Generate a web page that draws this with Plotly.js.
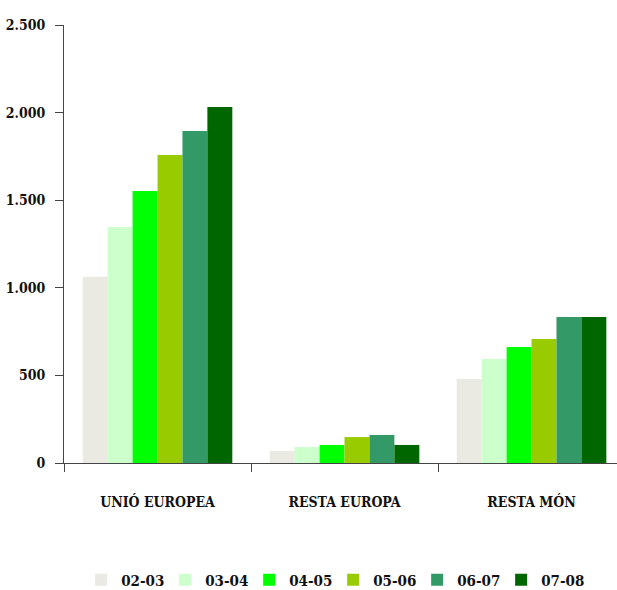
<!DOCTYPE html>
<html>
<head>
<meta charset="utf-8">
<script src="https://cdn.plot.ly/plotly-3.0.1.min.js"></script>
<style>html,body{margin:0;padding:0;background:#fff;overflow:hidden}</style>
</head>
<body>
<div id="chart" style="width:617px;height:590px"></div>
<script>
const categories = ['UNIÓ EUROPEA', 'RESTA EUROPA', 'RESTA MÓN'];
const seriesNames = ['02-03', '03-04', '04-05', '05-06', '06-07', '07-08'];
const v0203 = [1063, 68, 479];
const v0304 = [1347, 91, 594];
const v0405 = [1553, 103, 662];
const v0506 = [1758, 148, 708];
const v0607 = [1895, 160, 833];
const v0708 = [2032, 103, 833];
const seriesValues = [v0203, v0304, v0405, v0506, v0607, v0708];
const colors = ['#EAEAE2', '#CCFFCC', '#00FF00', '#99CC00', '#339966', '#006600'];
const yTicks = [0, 500, 1000, 1500, 2000, 2500];

const FONT = '"DejaVu Serif Condensed", "DejaVu Serif", serif';

const traces = seriesNames.map((n, i) => ({
  type: 'bar',
  name: n,
  x: categories,
  y: seriesValues[i],
  marker: {color: colors[i], line: {width: 0}},
  hoverinfo: 'y'
}));

const layout = {
  width: 617, height: 590,
  margin: {l: 64, r: 0, t: 25, b: 127, autoexpand: false},
  paper_bgcolor: '#fff', plot_bgcolor: '#fff',
  separators: ',.',
  barmode: 'group', bargap: 0.2, bargroupgap: 0,
  font: {family: FONT, color: '#111', size: 14, weight: 'bold'},
  xaxis: {
    type: 'category',
    range: [-0.5, 2.457],
    showline: true, linecolor: '#444', linewidth: 1,
    ticks: 'outside', ticklen: 8, tickcolor: '#444', tickwidth: 1,
    tickson: 'boundaries',
    showgrid: false, zeroline: false,
    automargin: false,
    ticklabelstandoff: 26,
    tickfont: {family: FONT, size: 14, color: '#111', weight: 'bold'}
  },
  yaxis: {
    range: [0, 2500],
    tickvals: yTicks,
    tickformat: ',d',
    showline: true, linecolor: '#444', linewidth: 1,
    ticks: 'outside', ticklen: 8, tickcolor: '#444', tickwidth: 1,
    showgrid: false, zeroline: false,
    automargin: false,
    ticklabelstandoff: 7,
    tickfont: {family: FONT, size: 14, color: '#111', weight: 'bold'}
  },
  showlegend: true,
  legend: {
    orientation: 'h',
    x: 0.031, xanchor: 'left',
    y: -0.267, yanchor: 'middle',
    entrywidth: 39, entrywidthmode: 'pixels',
    font: {family: FONT, size: 15, color: '#111', weight: 'bold'},
    itemclick: false, itemdoubleclick: false
  }
};

Plotly.newPlot('chart', traces, layout, {displayModeBar: false, staticPlot: true});
</script>
</body>
</html>
